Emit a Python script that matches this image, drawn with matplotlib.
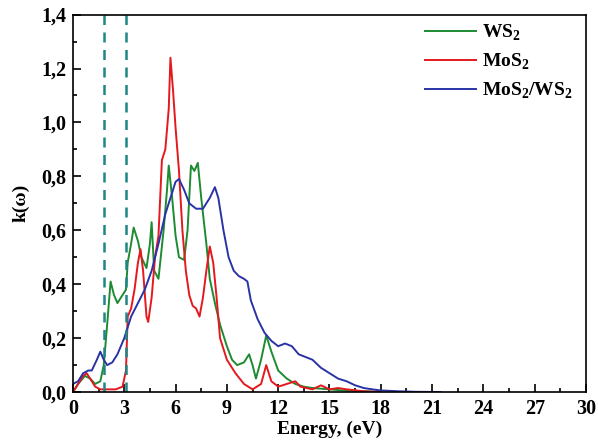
import numpy as np
import matplotlib.pyplot as plt
from matplotlib.ticker import MultipleLocator, FuncFormatter

plt.rcParams['font.family'] = ['Liberation Serif', 'DejaVu Serif']
plt.rcParams['font.weight'] = 'bold'
plt.rcParams['mathtext.fontset'] = 'custom'
plt.rcParams['mathtext.rm'] = 'Liberation Serif:bold'
plt.rcParams['mathtext.bf'] = 'Liberation Serif:bold'

# WS2
ws2_e = [0, 0.3, 0.7, 1.0, 1.3, 1.6, 1.8, 2.0, 2.2, 2.4, 2.6, 2.8, 3.0, 3.1, 3.2, 3.4, 3.55,
         3.8, 4.0, 4.3, 4.5, 4.6, 4.75, 5.0, 5.3, 5.5, 5.6, 5.8, 6.0, 6.2, 6.5, 6.7, 6.9,
         7.1, 7.3, 7.5, 7.8, 8.0, 8.3, 8.6, 9.0, 9.3, 9.6, 10.0, 10.3, 10.5, 10.7, 11.0,
         11.3, 11.6, 12.0, 12.5, 13.0, 13.5, 14.0, 15.0, 16.0, 17.0, 18.0]
ws2_k = [0.0, 0.03, 0.06, 0.05, 0.03, 0.04, 0.10, 0.25, 0.41, 0.36, 0.33, 0.35, 0.37, 0.38,
         0.48, 0.55, 0.61, 0.56, 0.50, 0.46, 0.55, 0.63, 0.45, 0.42, 0.60, 0.75, 0.84, 0.72,
         0.58, 0.50, 0.49, 0.60, 0.84, 0.82, 0.85, 0.72, 0.55, 0.42, 0.33, 0.25, 0.17, 0.12,
         0.10, 0.11, 0.14, 0.10, 0.05, 0.12, 0.21, 0.15, 0.08, 0.05, 0.03, 0.02, 0.015, 0.01,
         0.005, 0.003, 0.0]

# MoS2
mos2_e = [0, 0.3, 0.6, 0.8, 1.0, 1.3, 1.6, 2.0, 2.5, 2.9, 3.1, 3.2, 3.4, 3.6, 3.8, 3.95,
          4.1, 4.3, 4.4, 4.6, 4.8, 5.0, 5.2, 5.4, 5.6, 5.7, 5.85, 6.0, 6.2, 6.4, 6.6, 6.8,
          7.0, 7.2, 7.4, 7.6, 7.8, 8.0, 8.2, 8.4, 8.6, 9.0, 9.5, 10.0, 10.5, 11.0, 11.3,
          11.6, 12.0, 12.5, 13.0, 13.3, 14.0, 14.5, 15.0, 15.5, 16.0, 17.0, 18.0]
mos2_k = [0.0, 0.03, 0.06, 0.07, 0.05, 0.02, 0.01, 0.01, 0.01, 0.02, 0.08, 0.28, 0.31, 0.38,
          0.48, 0.53, 0.45, 0.28, 0.26, 0.35, 0.50, 0.58, 0.86, 0.90, 1.05, 1.24, 1.12, 0.98,
          0.82, 0.60, 0.45, 0.36, 0.32, 0.31, 0.28, 0.35, 0.45, 0.54, 0.48, 0.35, 0.20, 0.12,
          0.07, 0.03, 0.01, 0.03, 0.10, 0.04, 0.02, 0.03, 0.04, 0.02, 0.01, 0.025, 0.01,
          0.015, 0.01, 0.003, 0.0]

# MoS2/WS2
het_e = [0, 0.3, 0.6, 0.9, 1.1, 1.4, 1.6, 1.8, 2.0, 2.3, 2.6, 3.0, 3.4, 3.8, 4.2, 4.6, 5.0,
         5.4, 5.7, 6.0, 6.2, 6.5, 6.8, 7.2, 7.6, 8.0, 8.3, 8.5, 8.8, 9.1, 9.4, 9.7, 10.0,
         10.2, 10.4, 10.8, 11.2, 11.6, 12.0, 12.4, 12.8, 13.2, 13.6, 14.0, 14.5, 15.0, 15.5,
         16.0, 16.5, 17.0, 17.5, 18.0, 19.0, 20.0, 21.5]
het_k = [0.03, 0.04, 0.07, 0.08, 0.08, 0.12, 0.15, 0.12, 0.10, 0.11, 0.14, 0.20, 0.28, 0.33,
         0.38, 0.45, 0.55, 0.66, 0.72, 0.78, 0.79, 0.75, 0.70, 0.68, 0.68, 0.72, 0.76, 0.72,
         0.60, 0.50, 0.45, 0.43, 0.42, 0.41, 0.34, 0.27, 0.22, 0.19, 0.17, 0.18, 0.17, 0.14,
         0.13, 0.12, 0.09, 0.07, 0.05, 0.04, 0.025, 0.015, 0.01, 0.006, 0.003, 0.001, 0.0]

gap_lines = [1.83, 3.12]

fig = plt.figure(figsize=(5.98, 4.42), dpi=100)
ax = fig.add_axes([0.122, 0.113, 0.858, 0.854])

ax.plot(ws2_e, ws2_k, color='#1e8a32', lw=1.4, label='WS$_2$')
ax.plot(mos2_e, mos2_k, color='#e3191e', lw=1.4, label='MoS$_2$')
ax.plot(het_e, het_k, color='#2a33a6', lw=1.4, label='MoS$_2$/WS$_2$')
for x in gap_lines:
    ax.axvline(x, color='#1f8585', lw=1.8, ls=(0, (4, 3)))

ax.set_xlim(0, 30)
ax.set_ylim(0, 1.4)
ax.xaxis.set_major_locator(MultipleLocator(3))
ax.xaxis.set_minor_locator(MultipleLocator(1.5))
ax.yaxis.set_major_locator(MultipleLocator(0.2))
ax.yaxis.set_minor_locator(MultipleLocator(0.1))
ax.yaxis.set_major_formatter(FuncFormatter(lambda v, p: f'{v:.1f}'.replace('.', ',')))
ax.tick_params(which='both', direction='in', top=False, right=False, labelsize=14.5, width=1.2)
ax.tick_params(which='major', length=6, pad=5)
ax.tick_params(which='minor', length=3)
for s in ax.spines.values():
    s.set_linewidth(1.2)

ax.set_xlabel('Energy, (eV)', fontsize=14, fontweight='bold', labelpad=1)
ax.set_ylabel('k(ω)', fontsize=14, fontweight='bold', labelpad=8)

ax.legend(loc='upper right', bbox_to_anchor=(1.0, 1.015), frameon=False, fontsize=14,
          handlelength=2.6, handletextpad=0.3, labelspacing=0.45, borderaxespad=0.3)

fig.savefig('out.png', dpi=100)
